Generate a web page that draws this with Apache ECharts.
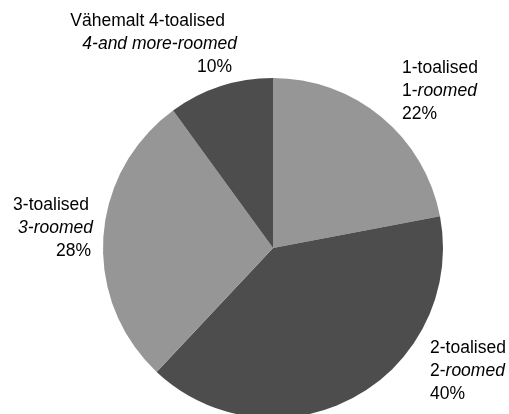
<!DOCTYPE html>
<html>
<head>
<meta charset="utf-8">
<script src="https://cdn.jsdelivr.net/npm/echarts@6/dist/echarts.min.js"></script>
<style>
html,body{margin:0;padding:0;background:#fff;}
#chart{width:509px;height:414px;}
</style>
</head>
<body>
<div id="chart"></div>
<script>
// Data
var namesEt = ['1-toalised', '2-toalised', '3-toalised', 'Vähemalt 4-toalised'];
var enPrefix = ['1-', '2-', '', ''];
var enItalic = ['roomed', 'roomed', '3-roomed', '4-and more-roomed'];
var values = [22, 40, 28, 10];

// Styles / layout
var colors = ['#969696', '#4d4d4d', '#969696', '#4d4d4d'];
var labelPos = [
  {x: 402, y: 91, align: 'left'},
  {x: 430, y: 371, align: 'left'},
  {x: 93, y: 228, align: 'right'},
  {x: 237, y: 44, align: 'right'}
];
var linePad = [
  [0, 0, 0],
  [0, 0, 0],
  [4, 0, 2],
  [12, 0, 5]
];
var FONT = '"Liberation Sans", Arial, sans-serif';
var FS = 17.5, LH = 23;

function makeRich(i) {
  var p = linePad[i];
  function st(italic, pr) {
    return {fontFamily: FONT, fontSize: FS, lineHeight: LH, color: '#000',
      fontStyle: italic ? 'italic' : 'normal', padding: [0, pr, 0, 0]};
  }
  return {
    a: st(false, p[0]),
    r: st(false, 0),
    i: st(true, p[1]),
    c: st(false, p[2])
  };
}

var data = values.map(function (v, i) {
  return {
    value: v,
    name: namesEt[i],
    itemStyle: {color: colors[i]},
    label: {rich: makeRich(i)}
  };
});

var chart = echarts.init(document.getElementById('chart'), null, {renderer: 'canvas'});
chart.setOption({
  animation: false,
  backgroundColor: '#fff',
  series: [{
    type: 'pie',
    center: [273, 248],
    radius: [0, 170],
    startAngle: 90,
    clockwise: true,
    data: data,
    itemStyle: {borderWidth: 0},
    emphasis: {disabled: true},
    labelLine: {show: false},
    label: {
      show: true,
      position: 'outside',
      overflow: 'none',
      alignTo: 'none',
      bleedMargin: 0,
      fontFamily: FONT,
      fontSize: FS,
      lineHeight: LH,
      color: '#000',
      formatter: function (p) {
        var i = p.dataIndex;
        var line2 = (enPrefix[i] ? '{r|' + enPrefix[i] + '}' : '') + '{i|' + enItalic[i] + '}';
        return '{a|' + namesEt[i] + '}\n' + line2 + '\n{c|' + values[i] + '%}';
      }
    },
    labelLayout: function (params) {
      var lp = labelPos[params.dataIndex];
      return {x: lp.x, y: lp.y, align: lp.align, verticalAlign: 'middle', hideOverlap: false, moveOverlap: false};
    }
  }]
});
</script>
</body>
</html>
